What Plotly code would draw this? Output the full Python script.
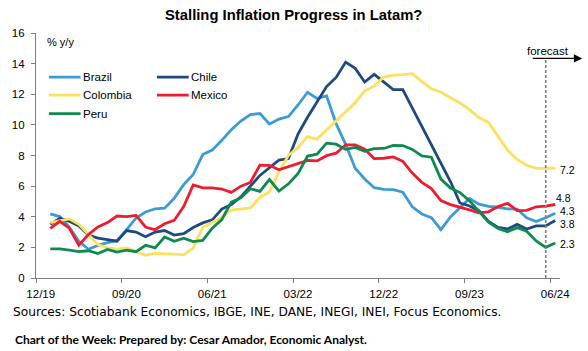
import plotly.graph_objects as go

# ---- data (Jan 2020 .. Jun 2024, % y/y) ----
categories = ["12/19"] + [f"{m:02d}/{y % 100:02d}" for y in range(2020, 2025) for m in range(1, 13)][:54]

brazil = [4.19, 4.01, 3.30, 2.40, 1.88, 2.13, 2.31, 2.44, 3.14, 3.92, 4.31, 4.52,
          4.56, 5.20, 6.10, 6.76, 8.06, 8.35, 8.99, 9.68, 10.25, 10.67, 10.74, 10.06,
          10.38, 10.54, 11.30, 12.13, 11.73, 11.89, 10.07, 8.73, 7.17, 6.47, 5.90, 5.79,
          5.77, 5.60, 4.65, 4.18, 3.94, 3.16, 3.99, 4.61, 5.19, 4.82, 4.68, 4.62,
          4.51, 4.50, 3.93, 3.69, 3.93, 4.23]
chile = [3.5, 3.9, 3.7, 3.4, 2.8, 2.6, 2.5, 2.4, 3.1, 3.0, 2.7, 3.0,
         3.1, 2.8, 2.9, 3.3, 3.6, 3.8, 4.5, 4.8, 5.3, 6.0, 6.7, 7.2,
         7.7, 7.8, 9.4, 10.5, 11.5, 12.5, 13.1, 14.1, 13.7, 12.8, 13.3, 12.8,
         12.3, 12.3, 11.1, 9.9, 8.8, 7.6, 6.3, 4.9, 4.7, 4.4, 3.7, 3.3,
         3.2, 3.5, 3.2, 3.4, 3.4, 3.75]
colombia = [3.62, 3.72, 3.86, 3.51, 2.85, 2.19, 1.97, 1.88, 1.97, 1.75, 1.49, 1.61,
            1.60, 1.56, 1.51, 1.95, 3.30, 3.63, 3.97, 4.44, 4.51, 4.58, 5.26, 5.62,
            6.94, 8.01, 8.53, 9.23, 9.07, 9.67, 10.21, 10.84, 11.44, 12.22, 12.53, 13.12,
            13.25, 13.28, 13.34, 12.82, 12.36, 12.13, 11.78, 11.43, 10.99, 10.48, 10.15, 9.28,
            8.35, 7.74, 7.36, 7.16, 7.16, 7.18]
mexico = [3.24, 3.70, 3.25, 2.15, 2.84, 3.33, 3.62, 4.05, 4.01, 4.09, 3.33, 3.15,
          3.54, 3.76, 4.67, 6.08, 5.89, 5.88, 5.81, 5.59, 6.00, 6.24, 7.37, 7.36,
          7.07, 7.28, 7.45, 7.68, 7.65, 7.99, 8.15, 8.70, 8.70, 8.41, 7.80, 7.82,
          7.91, 7.62, 6.85, 6.25, 5.84, 5.06, 4.79, 4.64, 4.45, 4.26, 4.32, 4.66,
          4.88, 4.40, 4.42, 4.65, 4.69, 4.80]
peru = [1.90, 1.90, 1.82, 1.72, 1.78, 1.60, 1.86, 1.69, 1.82, 1.72, 2.14, 1.97,
        2.68, 2.40, 2.60, 2.38, 2.45, 3.25, 3.81, 4.95, 5.23, 5.83, 5.66, 6.43,
        5.68, 6.15, 6.82, 7.96, 8.09, 8.81, 8.74, 8.40, 8.53, 8.28, 8.45, 8.46,
        8.66, 8.65, 8.40, 7.97, 7.89, 6.46, 5.88, 5.58, 5.04, 4.34, 3.64, 3.24,
        3.02, 3.29, 3.05, 2.42, 2.00, 2.29]

end_labels = ["4.3", "3.8", "7.2", "4.8", "2.3"]
tick_labels = ["12/19", "09/20", "06/21", "03/22", "12/22", "09/23", "06/24"]
forecast_start = 53  # May 2024 (category index)

series = [("Brazil", brazil, "#3d9bd4"), ("Chile", chile, "#1f4a80"),
          ("Colombia", colombia, "#fde15e"), ("Mexico", mexico, "#ed1c2e"),
          ("Peru", peru, "#0e8a4e")]

FONT = "Liberation Sans, Arial, sans-serif"
W, H = 588, 351
L, R, T, B = 32, 27.5, 33.3, 72.5

def px(x):
    return (x - L) / (W - L - R)

def py(y):
    return 1 - (y - T) / (H - T - B)

xs = list(range(1, 55))
fig = go.Figure()
for name, vals, col in series:
    fig.add_trace(go.Scatter(x=xs, y=vals, mode="lines", name=name,
                             line=dict(color=col, width=2.8), showlegend=False,
                             hoverinfo="skip"))

ann = []
shapes = []

# end labels
shifts = {"Brazil": (4, 2), "Chile": (4, -3), "Colombia": (4, -2), "Mexico": (0, 6.5), "Peru": (4, -1.5)}
for (name, vals, col), lab in zip(series, end_labels):
    dx, dy = shifts[name]
    ann.append(dict(x=xs[-1], y=vals[-1], xref="x", yref="y", text=lab, showarrow=False,
                    xanchor="left", yanchor="middle", xshift=dx, yshift=dy, borderpad=0,
                    font=dict(size=10.5, color="#000", family=FONT)))

# legend
leg_pos = [(45, 77.5), (154, 77.5), (45, 95.5), (154, 95.5), (45, 114)]
for (name, vals, col), (lx, ly) in zip(series, leg_pos):
    shapes.append(dict(type="line", xref="paper", yref="paper", x0=px(lx), x1=px(lx + 32),
                       y0=py(ly), y1=py(ly), line=dict(color=col, width=2.8)))
    ann.append(dict(x=px(lx + 33), y=py(ly), xref="paper", yref="paper", text=name,
                    showarrow=False, xanchor="left", yanchor="middle", borderpad=0,
                    font=dict(size=11.5, color="#000", family=FONT)))

# forecast marker
shapes.append(dict(type="line", xref="x", yref="y", x0=forecast_start, x1=forecast_start,
                   y0=0, y1=14.25, line=dict(color="#7f7f7f", width=1.6, dash="3px,2px")))
ann.append(dict(x=px(583), y=py(58.7), xref="paper", yref="paper", ax=-51, ay=0,
                text="", showarrow=True, arrowhead=2, arrowsize=1.3, arrowwidth=1.3,
                arrowcolor="#000"))
ann.append(dict(x=px(548.5), y=py(51), xref="paper", yref="paper", text="forecast",
                showarrow=False, xanchor="center", yanchor="middle",
                font=dict(size=11.5, color="#000", family=FONT)))

# texts
ann.append(dict(x=px(42), y=py(42.5), xref="paper", yref="paper", text="% y/y",
                showarrow=False, xanchor="left", yanchor="middle", borderpad=0,
                font=dict(size=11, color="#000", family=FONT)))
ann.append(dict(x=px(292), y=py(15), xref="paper", yref="paper",
                text="<b>Stalling Inflation Progress in Latam?</b>", showarrow=False,
                xanchor="center", yanchor="middle",
                font=dict(size=14.8, color="#000", family=FONT)))
ann.append(dict(x=px(8), y=py(312.5), xref="paper", yref="paper",
                text="Sources: Scotiabank Economics, IBGE, INE, DANE, INEGI, INEI, Focus Economics.",
                showarrow=False, xanchor="left", yanchor="middle", borderpad=0,
                font=dict(size=12.2, color="#000", family="DejaVu Sans, sans-serif")))
ann.append(dict(x=px(10), y=py(340), xref="paper", yref="paper",
                text="<b>Chart of the Week: Prepared by: Cesar Amador, Economic Analyst.</b>",
                showarrow=False, xanchor="left", yanchor="middle", borderpad=0,
                font=dict(size=12, color="#000", family="Lato, Carlito, sans-serif")))

tick_pos = [categories.index(t) for t in tick_labels]

fig.update_layout(
    width=W, height=H, margin=dict(l=L, r=R, t=T, b=B, pad=0),
    paper_bgcolor="white", plot_bgcolor="white",
    font=dict(family=FONT, size=11, color="#000"),
    annotations=ann, shapes=shapes,
    xaxis=dict(range=[-0.5, 54.5], tickmode="array", tickvals=tick_pos, ticktext=tick_labels,
               ticks="", showgrid=False, zeroline=False, showline=True, linecolor="#7f7f7f",
               linewidth=1.3, tickfont=dict(size=11.5, family=FONT, color="#000"),
               ticklabelstandoff=5,
               minor=dict(tickmode="linear", tick0=-0.5, dtick=9, ticks="outside", ticklen=4,
                          tickcolor="#7f7f7f", tickwidth=1.3, showgrid=False)),
    yaxis=dict(range=[0, 16], tickmode="linear", tick0=0, dtick=2, ticks="outside", ticklen=4,
               tickcolor="#7f7f7f", tickwidth=1.3, showgrid=False, zeroline=False,
               showline=True, linecolor="#7f7f7f", linewidth=1.3,
               tickfont=dict(size=11.5, family=FONT, color="#000"), ticklabelstandoff=4),
)

fig.write_html("out.html")
